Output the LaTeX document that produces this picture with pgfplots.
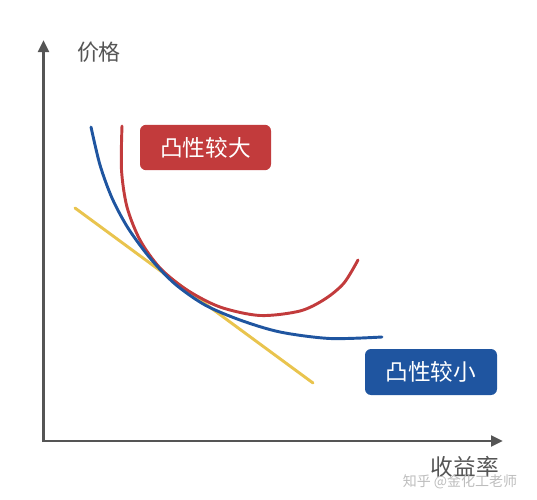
\documentclass[border=0pt]{standalone}
\usepackage{pgfplots}
\pgfplotsset{compat=1.18}
\usepackage{fontspec}
\usetikzlibrary{arrows.meta}
\newfontfamily\cjk{Noto Sans CJK SC}
\definecolor{cred}{HTML}{C23B3C}
\definecolor{cblue}{HTML}{1F55A0}
\definecolor{cyel}{HTML}{E9C44E}
\definecolor{cgrey}{HTML}{555555}
\definecolor{cwm}{HTML}{BDBDBD}
\begin{document}
\begin{tikzpicture}
\begin{axis}[
  scale only axis, width=402.75pt, height=375pt,
  xmin=0, xmax=537, ymin=0, ymax=500, y dir=reverse,
  hide axis, clip=false,
]
\addplot[draw=none, forget plot] coordinates {(0,0) (537,500)};
% axes
\addplot[cgrey, line width=2.2pt, -{Triangle[length=9pt,width=8pt]}] coordinates {(43.5,442) (43.5,40)};
\addplot[cgrey, line width=2.2pt, -{Triangle[length=9pt,width=8pt]}] coordinates {(42.5,441) (503,441)};
% yellow tangent line
\addplot[cyel, line width=2.2pt, line cap=round] coordinates {(75,208) (313,383)};
% red curve (convexity larger)
\addplot[cred, line width=2.2pt, smooth, line cap=round] coordinates {
(122,126) (121.5,170) (127,207) (140,240) (160,268) (187,290) (220,307)
(260,315.5) (300,311) (325,299) (344,283) (358,260)};
% blue curve (convexity smaller)
\addplot[cblue, line width=2.2pt, smooth, line cap=round] coordinates {
(91,127) (100,165) (112,198) (128,228) (150,258) (175,284) (205,305)
(240,320) (280,332) (330,338.5) (382,337)};
% labels
\node[text=cgrey, font=\cjk\fontsize{16.5}{18}\selectfont] at (axis cs:99,52) {价格};
\node[text=cgrey, font=\cjk\fontsize{17}{19}\selectfont] at (axis cs:465,467) {收益率};
\node[text=cwm, font=\cjk\fontsize{10.5}{12}\selectfont] at (axis cs:460,482) {知乎 @金化工老师};
% boxes
\node[fill=cred, rounded corners=4.5pt, minimum width=98.25pt, minimum height=34pt, inner sep=0pt,
  text=white, font=\cjk\fontsize{17}{19}\selectfont] at (axis cs:205.5,147.5) {凸性较大};
\node[fill=cblue, rounded corners=4.5pt, minimum width=99pt, minimum height=34.5pt, inner sep=0pt,
  text=white, font=\cjk\fontsize{17}{19}\selectfont] at (axis cs:431,372) {凸性较小};
\end{axis}
\end{tikzpicture}
\end{document}
